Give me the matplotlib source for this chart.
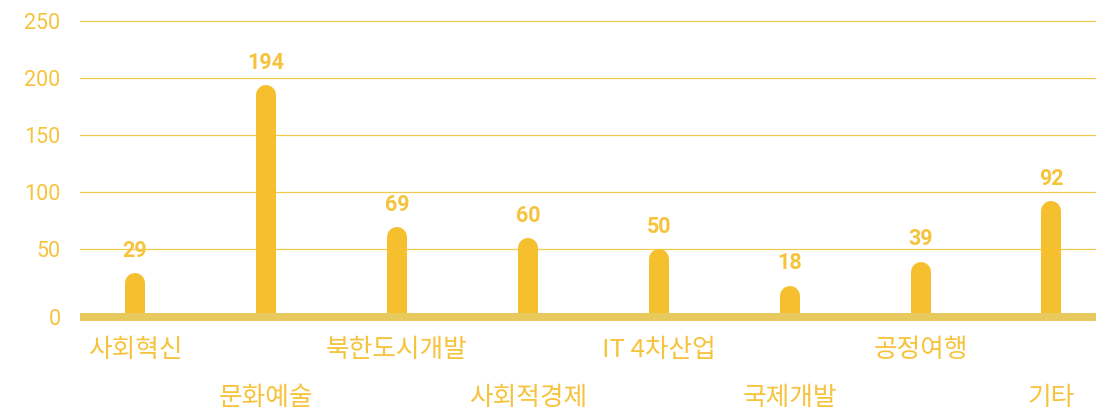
import matplotlib
matplotlib.use("Agg")
import matplotlib.pyplot as plt

# data
categories = ["사회혁신", "문화예술", "북한도시개발", "사회적경제",
              "IT 4차산업", "국제개발", "공정여행", "기타"]
counts = [29, 194, 69, 60, 50, 18, 39, 92]
y_ticks = [50, 100, 150, 200, 250]

bar_col = "#F6BF2D"
base_col = "#E8C95E"
grid_col = "#F3C94E"
text_col = "#F6C33C"

DPI = 100
fig = plt.figure(figsize=(11.1, 4.15), dpi=DPI)
ax = fig.add_axes([0.0721, 0.2241, 0.9153, 0.7308])
ax.set_xlim(-0.42, 7.34)
ax.set_ylim(-14, 252)
for s in ax.spines.values():
    s.set_visible(False)

# gridlines
for t in y_ticks:
    ax.axhline(t, color=grid_col, lw=0.9, zorder=1)

# baseline band
base_lo, base_hi = -13.2, -6.1
base_mid = (base_lo + base_hi) / 2
ax.axhspan(base_lo, base_hi, color=base_col, lw=0, zorder=4)

# rounded bars: straight body + round cap on top
bar_px = 20
px_per_unit = ax.get_window_extent().height / (252 + 14)
r = (bar_px / 2) / px_per_unit
lw = bar_px * 72 / DPI
for i, v in enumerate(counts):
    ax.plot([i, i], [base_mid, v - r], color=bar_col, lw=lw,
            solid_capstyle="butt", zorder=3)
    ax.plot([i, i], [v - 2 * r, v - r], color=bar_col, lw=lw,
            solid_capstyle="round", zorder=3)
    ax.annotate(str(v), (i, v), xytext=(0, 8), textcoords="offset points",
                ha="center", va="bottom", fontsize=15.5, fontweight="bold",
                color=text_col, family=["Roboto", "DejaVu Sans"])

# category labels, staggered in two rows
for i, c in enumerate(categories):
    off = -24 if i % 2 == 0 else -58
    ax.annotate(c, (i, base_mid), xytext=(0, off), textcoords="offset points",
                ha="center", va="center", fontsize=18.5, color=text_col,
                fontweight="light",
                family=["Noto Sans CJK KR", "DejaVu Sans"])

ax.set_yticks([base_mid] + y_ticks)
ax.set_yticklabels(["0"] + [str(t) for t in y_ticks])
ax.tick_params(axis="y", length=0, pad=14, labelcolor=text_col, labelsize=15.5)
for lab in ax.get_yticklabels():
    lab.set_family(["Roboto", "DejaVu Sans"])
ax.set_xticks([])

fig.savefig("out.png", dpi=DPI)
